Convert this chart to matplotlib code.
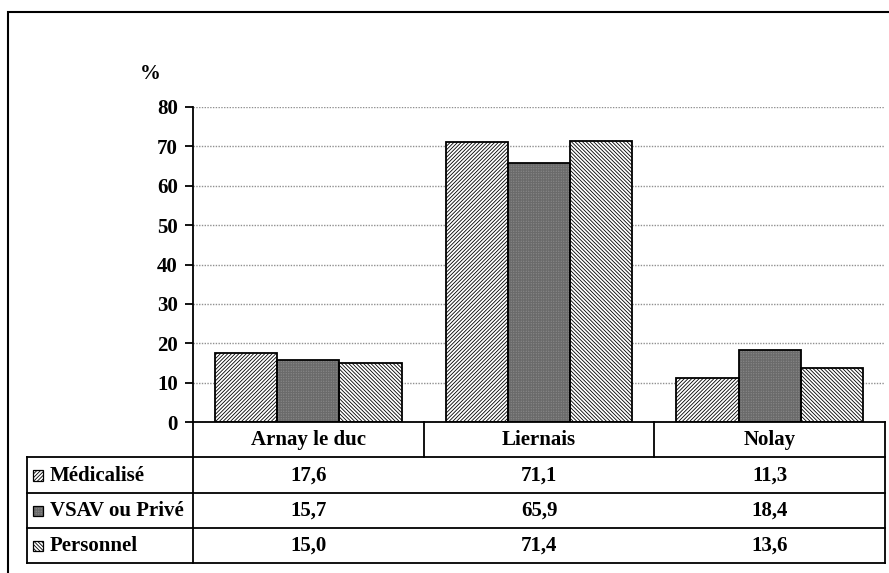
import numpy as np
import matplotlib
matplotlib.use("Agg")
import matplotlib.pyplot as plt
from matplotlib.patches import Rectangle

# ============================
# 데이터
# ============================
categories = ["Arnay le duc", "Liernais", "Nolay"]
series_names = ["Médicalisé", "VSAV ou Privé", "Personnel"]
medicalise = [17.6, 71.1, 11.3]
vsav_prive = [15.7, 65.9, 18.4]
personnel = [15.0, 71.4, 13.6]
y_ticks = [0, 10, 20, 30, 40, 50, 60, 70, 80]

series_values = [medicalise, vsav_prive, personnel]
hatches = ["/////////", "++++++++++", "\\\\\\\\\\\\\\\\\\"]
faces = ["white", "#9a9a9a", "white"]
hatch_cols = ["black", "#6a6a6a", "black"]

plt.rcParams["font.family"] = ["Liberation Serif", "DejaVu Serif"]
plt.rcParams["font.weight"] = "bold"
plt.rcParams["hatch.linewidth"] = 0.6

FS = 15
W, H = 889, 573
fig = plt.figure(figsize=(W / 100, H / 100), dpi=100)

def px_rect(x0, y0, x1, y1):
    return [x0 / W, 1 - y1 / H, (x1 - x0) / W, (y1 - y0) / H]

# ============================
# 막대 그래프
# ============================
ax = fig.add_axes(px_rect(193, 107, 885, 422))
x = np.arange(len(categories))
bw = 0.27
for i, vals in enumerate(series_values):
    ax.bar(x + (i - 1) * bw, vals, bw, facecolor=faces[i],
           edgecolor=hatch_cols[i], hatch=hatches[i], linewidth=0, zorder=3)
    ax.bar(x + (i - 1) * bw, vals, bw, facecolor="none", edgecolor="black",
           linewidth=1.3, zorder=4)

ax.set_xlim(-0.5, 2.5)
ax.set_ylim(0, 80)
ax.set_yticks(y_ticks)
ax.set_yticklabels([str(t) for t in y_ticks], fontsize=FS, fontweight="bold")
ax.set_xticks([])
ax.yaxis.grid(True, color="#909090", linestyle=(0, (1, 1)), linewidth=1.0, zorder=0)
for s in ["top", "right", "bottom"]:
    ax.spines[s].set_visible(False)
ax.spines["left"].set_linewidth(1.3)
ax.tick_params(axis="y", length=6, width=1.3, pad=5)
fig.text(150 / W, 1 - 74 / H, "%", fontsize=FS, fontweight="bold",
         ha="center", va="center")

# ============================
# 데이터 테이블
# ============================
unit = 692 / 3
label_w = (193 - 27) / unit
tax = fig.add_axes(px_rect(27, 422, 885, 563))
tax.set_xlim(-0.5 - label_w, 2.5)
tax.set_ylim(4, 0)
tax.axis("off")
lk = dict(color="black", linewidth=1.3, clip_on=False)
left = -0.5 - label_w
# horizontal lines
tax.plot([-0.5, 2.5], [0, 0], **lk)
for r in [1, 2, 3, 4]:
    tax.plot([left, 2.5], [r, r], **lk)
# vertical lines
tax.plot([left, left], [1, 4], **lk)
tax.plot([-0.5, -0.5], [0, 4], **lk)
tax.plot([2.5, 2.5], [0, 4], **lk)
for c in [0.5, 1.5]:
    tax.plot([c, c], [0, 1], **lk)

for j, cat in enumerate(categories):
    tax.text(j, 0.52, cat, ha="center", va="center", fontsize=FS, fontweight="bold")
kw = 10 / unit
for i, name in enumerate(series_names):
    yc = i + 1.52
    kx = left + 6 / unit
    tax.add_patch(Rectangle((kx, yc - 0.15), kw, 0.30, facecolor=faces[i],
                            edgecolor=hatch_cols[i], hatch=hatches[i],
                            linewidth=0, clip_on=False))
    tax.add_patch(Rectangle((kx, yc - 0.15), kw, 0.30, facecolor="none",
                            edgecolor="black", linewidth=0.9, clip_on=False))
    tax.text(kx + kw + 7 / unit, yc, name, ha="left", va="center",
             fontsize=FS, fontweight="bold")
    for j, v in enumerate(series_values[i]):
        tax.text(j, yc, f"{v:.1f}".replace(".", ","), ha="center", va="center",
                 fontsize=FS, fontweight="bold")

# 바깥 테두리
fig.add_artist(Rectangle((8 / W, -0.1), 1.2, 1.1 - 12 / H, transform=fig.transFigure,
                         facecolor="none", edgecolor="black", linewidth=1.5))

fig.savefig("out.png", dpi=100)
plt.close(fig)
